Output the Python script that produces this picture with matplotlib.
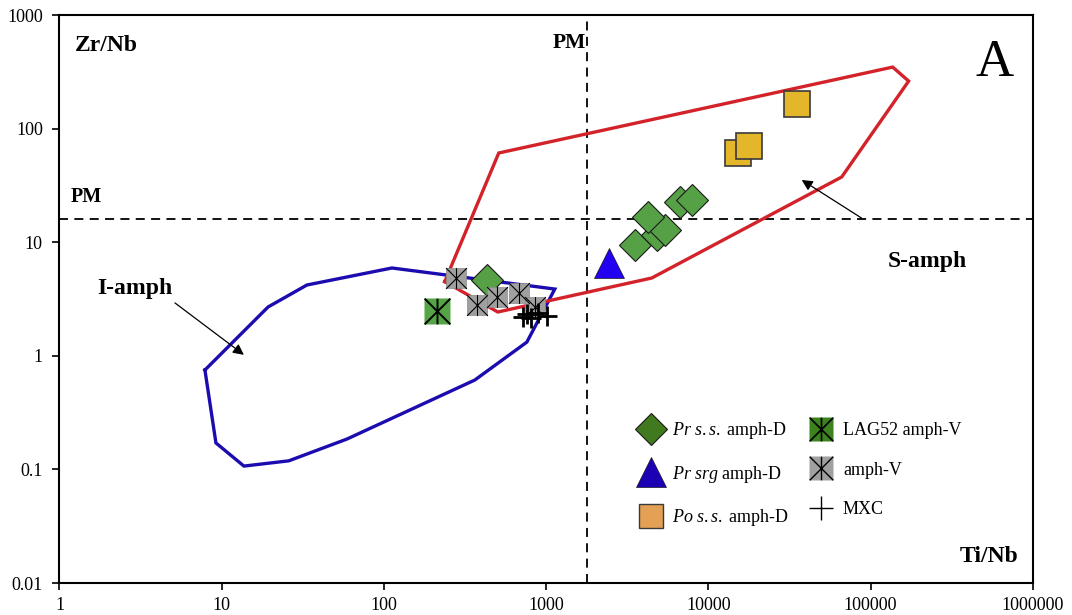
import matplotlib
matplotlib.use("Agg")
import matplotlib.pyplot as plt
from matplotlib.path import Path
from matplotlib.lines import Line2D
from matplotlib.ticker import FixedLocator, FixedFormatter, NullLocator

plt.rcParams['font.family'] = ['Liberation Serif', 'DejaVu Serif']
plt.rcParams['mathtext.fontset'] = 'custom'
plt.rcParams['mathtext.rm'] = 'Liberation Serif'
plt.rcParams['mathtext.it'] = 'Liberation Serif:italic'

# ---------------- data ----------------
# I-amph field (blue polygon)
i_amph_ti = [7.88, 19.3, 33.5, 112, 1130, 760, 363, 59.1, 25.9, 13.7, 9.21, 7.88]
i_amph_zr = [0.75, 2.69, 4.20, 5.93, 3.87, 1.32, 0.612, 0.185, 0.119, 0.107, 0.171, 0.75]
# S-amph field (red polygon)
s_amph_ti = [237, 510, 136700, 171500, 66300, 4474, 503, 237]
s_amph_zr = [4.5, 61.0, 348, 262, 37.5, 4.84, 2.43, 4.5]

# Primitive mantle reference values
pm_ti = 1790
pm_zr = 16.0

# samples
pr_ss_ti = [430, 3515, 4800, 5380, 4226, 6655, 7890]
pr_ss_zr = [4.65, 9.45, 11.6, 12.8, 16.7, 22.6, 23.5]
pr_srg_ti = [2430]
pr_srg_zr = [6.56]
po_ss_ti = [15150, 17700, 35000]
po_ss_zr = [61, 71, 165]
lag52_ti = [212]
lag52_zr = [2.48]
amphv_ti = [277, 374, 496, 678, 851]
amphv_zr = [4.84, 2.80, 3.29, 3.57, 2.69]
mxc_ti = [718, 759, 803, 887, 1008]
mxc_zr = [2.20, 2.33, 2.15, 2.38, 2.22]

x_ticks = [1, 10, 100, 1000, 10000, 100000, 1000000]
x_tick_labels = ["1", "10", "100", "1000", "10000", "100000", "1000000"]
y_ticks = [0.01, 0.1, 1, 10, 100, 1000]
y_tick_labels = ["0.01", "0.1", "1", "10", "100", "1000"]

legend_labels = [r"$\mathit{Pr\ s.s.}\;$amph-D", r"$\mathit{Pr\ srg}$ amph-D",
                 r"$\mathit{Po\ s.s.}\;$amph-D", "LAG52 amph-V", "amph-V", "MXC"]

# ---------------- figure ----------------
fig = plt.figure(figsize=(10.72, 6.15), dpi=100)
ax = fig.add_axes([0.0555, 0.052, 0.908, 0.9236])
ax.set_xscale('log')
ax.set_yscale('log')
ax.set_xlim(1, 1e6)
ax.set_ylim(0.01, 1000)

# star (X + vertical) marker
star = Path([(-1, -1), (1, 1), (-1, 1), (1, -1), (0, -1), (0, 1)],
            [Path.MOVETO, Path.LINETO, Path.MOVETO, Path.LINETO, Path.MOVETO, Path.LINETO])

# reference lines
ax.axvline(pm_ti, color='black', lw=1.3, ls=(0, (5, 3.5)), zorder=1)
ax.axhline(pm_zr, color='black', lw=1.3, ls=(0, (5, 3.5)), zorder=1)

# fields
ax.plot(i_amph_ti, i_amph_zr, color='#1C0CB0', lw=2.4, zorder=2, solid_joinstyle='miter')
ax.plot(s_amph_ti, s_amph_zr, color='#D32229', lw=2.4, zorder=2, solid_joinstyle='miter')

# samples
ax.plot(pr_ss_ti, pr_ss_zr, ls='none', marker='D', ms=16, mfc='#56A146', mec='#1a1a1a', mew=0.8, zorder=4)
ax.plot(pr_srg_ti, pr_srg_zr, ls='none', marker='^', ms=22, mfc='#2200F0', mec='#1a1a1a', mew=0.5, zorder=4)
ax.plot(po_ss_ti, po_ss_zr, ls='none', marker='s', ms=19, mfc='#E4B72A', mec='#3a3a3a', mew=1.2, zorder=4)
ax.plot(lag52_ti, lag52_zr, ls='none', marker='s', ms=18.5, mfc='#55A546', mec='none', zorder=5)
ax.plot(lag52_ti, lag52_zr, ls='none', marker=star, ms=18.5, mfc='none', mec='black', mew=1.4, zorder=5)
ax.plot(amphv_ti, amphv_zr, ls='none', marker='s', ms=15, mfc='#A0A0A0', mec='#8a8a8a', mew=0.5, zorder=5)
ax.plot(amphv_ti, amphv_zr, ls='none', marker=star, ms=15, mfc='none', mec='black', mew=0.8, zorder=5)
ax.plot(mxc_ti, mxc_zr, ls='none', marker='+', ms=14, mec='black', mew=2.0, zorder=6)

# texts
ax.text(0.016, 0.947, "Zr/Nb", transform=ax.transAxes, fontsize=17, fontweight='bold', ha='left', va='center')
ax.text(0.541, 0.951, "PM", transform=ax.transAxes, fontsize=15.5, fontweight='bold', ha='right', va='center')
ax.text(0.011, 0.680, "PM", transform=ax.transAxes, fontsize=14.5, fontweight='bold', ha='left', va='center')
ax.text(0.961, 0.915, "A", transform=ax.transAxes, fontsize=38, ha='center', va='center')
ax.text(0.985, 0.046, "Ti/Nb", transform=ax.transAxes, fontsize=17, fontweight='bold', ha='right', va='center')

ax.text(2.92, 3.95, "I-amph", fontsize=17, fontweight='bold', ha='center', va='center')
ax.annotate("", xy=(13.7, 1.02), xytext=(5.15, 2.92),
            arrowprops=dict(arrowstyle='-|>', color='black', lw=0.9, mutation_scale=16,
                            shrinkA=0, shrinkB=0))
ax.text(224500, 6.7, "S-amph", fontsize=17, fontweight='bold', ha='center', va='center')
ax.annotate("", xy=(37600, 35.3), xytext=(88000, 16.3),
            arrowprops=dict(arrowstyle='-|>', color='black', lw=0.9, mutation_scale=16,
                            shrinkA=0, shrinkB=0))

# axes styling
for s in ax.spines.values():
    s.set_linewidth(1.5)
ax.xaxis.set_major_locator(FixedLocator(x_ticks))
ax.xaxis.set_major_formatter(FixedFormatter(x_tick_labels))
ax.yaxis.set_major_locator(FixedLocator(y_ticks))
ax.yaxis.set_major_formatter(FixedFormatter(y_tick_labels))
ax.xaxis.set_minor_locator(NullLocator())
ax.yaxis.set_minor_locator(NullLocator())
ax.tick_params(axis='both', which='major', direction='out', length=5, width=1.2,
               labelsize=13)
ax.tick_params(axis='x', pad=5)
ax.tick_params(axis='y', pad=7)

# legend
h1 = Line2D([], [], ls='none', marker='D', ms=16, mfc='#417A1E', mec='#1a1a1a', mew=0.8)
h2 = Line2D([], [], ls='none', marker='^', ms=21, mfc='#1C00B4', mec='#1a1a1a', mew=0.5)
h3 = Line2D([], [], ls='none', marker='s', ms=17, mfc='#E4A055', mec='#3a3a3a', mew=1.0)
h4a = Line2D([], [], ls='none', marker='s', ms=17, mfc='#3C821E', mec='none')
h4b = Line2D([], [], ls='none', marker=star, ms=17, mfc='none', mec='black', mew=1.2)
h5a = Line2D([], [], ls='none', marker='s', ms=17, mfc='#A0A0A0', mec='none')
h5b = Line2D([], [], ls='none', marker=star, ms=17, mfc='none', mec='black', mew=1.0)
h6 = Line2D([], [], ls='none', marker='+', ms=17, mec='black', mew=1.0)
ax.legend([h1, h2, h3, (h4a, h4b), (h5a, h5b), h6], legend_labels, ncol=2, frameon=False,
          loc='upper left', bbox_to_anchor=(620 / 1072, 1 - 404 / 615),
          bbox_transform=fig.transFigure, fontsize=13, handlelength=1.6,
          handletextpad=0.4, labelspacing=1.25, columnspacing=1.0, borderpad=0.4)

fig.savefig("out.png", dpi=100)
